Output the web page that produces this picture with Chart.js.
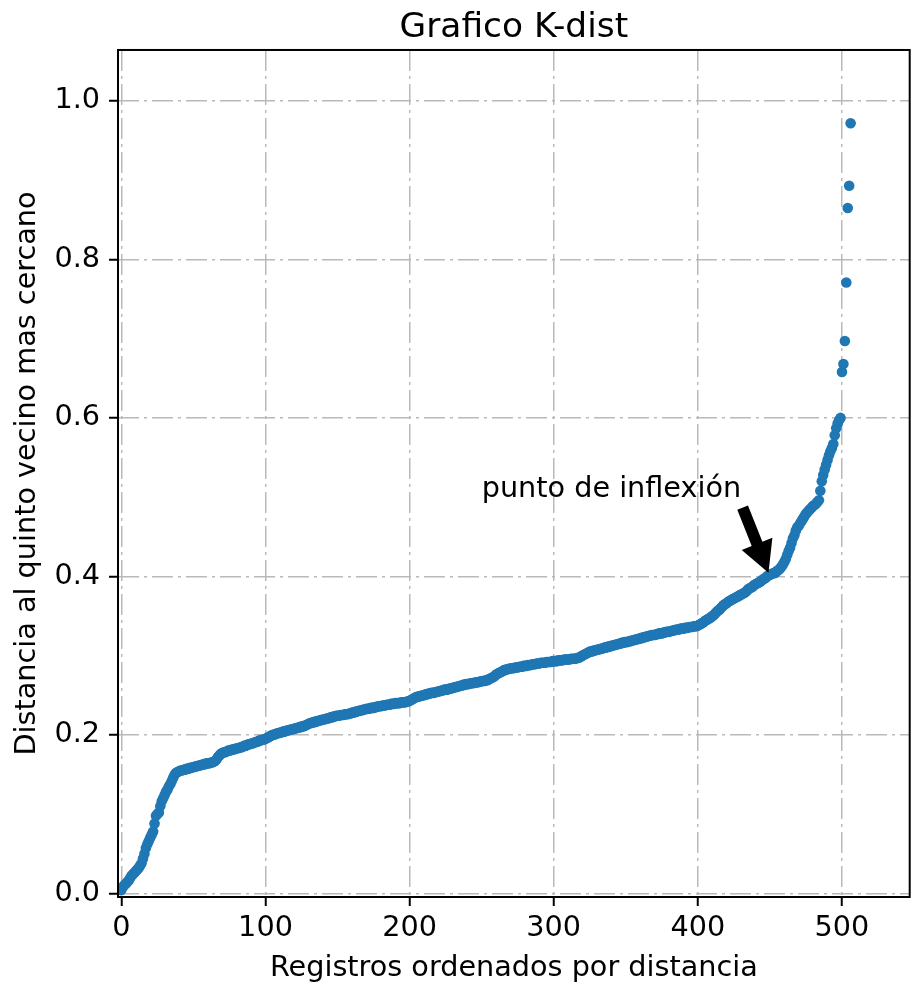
<!DOCTYPE html>
<html>
<head>
<meta charset="utf-8">
<script src="https://cdn.jsdelivr.net/npm/chart.js@4/dist/chart.umd.min.js"></script>
<style>
  html, body { margin: 0; padding: 0; background: #fff; }
  #wrap { width: 915px; height: 986px; }
</style>
</head>
<body>
<div id="wrap"><canvas id="canva"></canvas></div>
<script>
// distancia al 5o vecino, ya ordenada (registro i -> distancias[i])
const distancias = [
  0.004, 0.008, 0.010, 0.012, 0.014, 0.016, 0.019, 0.022, 0.024, 0.026,
  0.028, 0.030, 0.032, 0.035, 0.038, 0.044, 0.050, 0.057, 0.062, 0.066,
  0.070, 0.074, 0.078, 0.088, 0.098, 0.100, 0.102, 0.110, 0.116, 0.120,
  0.124, 0.128, 0.131, 0.135, 0.138, 0.142, 0.146, 0.150, 0.152, 0.153,
  0.154, 0.155, 0.155, 0.156, 0.156, 0.157, 0.157, 0.158, 0.158, 0.159,
  0.159, 0.160, 0.160, 0.161, 0.161, 0.162, 0.162, 0.163, 0.163, 0.164,
  0.164, 0.164, 0.165, 0.165, 0.166, 0.167, 0.169, 0.172, 0.174, 0.176,
  0.177, 0.178, 0.178, 0.179, 0.180, 0.180, 0.181, 0.181, 0.182, 0.182,
  0.183, 0.183, 0.184, 0.184, 0.185, 0.186, 0.186, 0.187, 0.188, 0.188,
  0.189, 0.189, 0.190, 0.191, 0.191, 0.192, 0.193, 0.193, 0.194, 0.194,
  0.195, 0.196, 0.197, 0.198, 0.199, 0.200, 0.200, 0.201, 0.202, 0.202,
  0.203, 0.203, 0.204, 0.204, 0.205, 0.205, 0.206, 0.206, 0.207, 0.207,
  0.208, 0.208, 0.209, 0.209, 0.210, 0.210, 0.211, 0.211, 0.212, 0.213,
  0.214, 0.215, 0.215, 0.216, 0.216, 0.217, 0.217, 0.218, 0.218, 0.219,
  0.219, 0.220, 0.220, 0.221, 0.221, 0.222, 0.222, 0.223, 0.223, 0.224,
  0.224, 0.224, 0.225, 0.225, 0.225, 0.226, 0.226, 0.226, 0.227, 0.227,
  0.228, 0.228, 0.229, 0.229, 0.230, 0.230, 0.231, 0.231, 0.232, 0.232,
  0.233, 0.233, 0.233, 0.234, 0.234, 0.234, 0.235, 0.235, 0.236, 0.236,
  0.236, 0.237, 0.237, 0.237, 0.238, 0.238, 0.238, 0.239, 0.239, 0.239,
  0.240, 0.240, 0.240, 0.240, 0.241, 0.241, 0.241, 0.241, 0.242, 0.242,
  0.243, 0.244, 0.245, 0.246, 0.247, 0.248, 0.248, 0.249, 0.249, 0.250,
  0.250, 0.251, 0.251, 0.252, 0.252, 0.253, 0.253, 0.253, 0.254, 0.254,
  0.255, 0.255, 0.256, 0.256, 0.257, 0.257, 0.257, 0.258, 0.258, 0.259,
  0.259, 0.260, 0.260, 0.261, 0.261, 0.262, 0.262, 0.263, 0.263, 0.264,
  0.264, 0.264, 0.265, 0.265, 0.265, 0.266, 0.266, 0.266, 0.267, 0.267,
  0.268, 0.268, 0.268, 0.269, 0.269, 0.270, 0.271, 0.272, 0.273, 0.274,
  0.276, 0.277, 0.278, 0.279, 0.280, 0.281, 0.282, 0.282, 0.283, 0.283,
  0.284, 0.284, 0.284, 0.285, 0.285, 0.285, 0.286, 0.286, 0.286, 0.287,
  0.287, 0.287, 0.288, 0.288, 0.288, 0.289, 0.289, 0.289, 0.290, 0.290,
  0.290, 0.291, 0.291, 0.291, 0.291, 0.292, 0.292, 0.292, 0.292, 0.293,
  0.293, 0.293, 0.293, 0.294, 0.294, 0.294, 0.294, 0.295, 0.295, 0.295,
  0.295, 0.295, 0.296, 0.296, 0.296, 0.296, 0.297, 0.297, 0.298, 0.299,
  0.300, 0.301, 0.302, 0.303, 0.304, 0.305, 0.305, 0.306, 0.306, 0.307,
  0.307, 0.308, 0.308, 0.309, 0.309, 0.310, 0.310, 0.311, 0.311, 0.312,
  0.312, 0.313, 0.313, 0.314, 0.314, 0.315, 0.315, 0.316, 0.316, 0.317,
  0.317, 0.317, 0.318, 0.318, 0.319, 0.319, 0.320, 0.320, 0.321, 0.321,
  0.322, 0.322, 0.323, 0.323, 0.324, 0.324, 0.325, 0.325, 0.326, 0.326,
  0.326, 0.327, 0.327, 0.328, 0.328, 0.328, 0.329, 0.329, 0.330, 0.330,
  0.330, 0.331, 0.331, 0.332, 0.332, 0.333, 0.333, 0.333, 0.334, 0.334,
  0.334, 0.335, 0.335, 0.335, 0.336, 0.336, 0.336, 0.337, 0.337, 0.337,
  0.338, 0.339, 0.340, 0.341, 0.342, 0.344, 0.345, 0.346, 0.347, 0.348,
  0.350, 0.351, 0.353, 0.355, 0.357, 0.358, 0.360, 0.362, 0.364, 0.365,
  0.366, 0.368, 0.369, 0.370, 0.371, 0.372, 0.373, 0.374, 0.375, 0.376,
  0.377, 0.378, 0.379, 0.380, 0.382, 0.384, 0.385, 0.386, 0.387, 0.389,
  0.390, 0.391, 0.392, 0.393, 0.394, 0.396, 0.397, 0.398, 0.400, 0.401,
  0.402, 0.403, 0.404, 0.404, 0.405, 0.407, 0.408, 0.410, 0.412, 0.415,
  0.418, 0.422, 0.427, 0.432, 0.436, 0.442, 0.448, 0.452, 0.458, 0.462,
  0.464, 0.467, 0.470, 0.473, 0.476, 0.479, 0.481, 0.483, 0.485, 0.487,
  0.489, 0.490, 0.492, 0.494, 0.496, 0.508, 0.520, 0.528, 0.535, 0.541,
  0.547, 0.553, 0.558, 0.562, 0.567, 0.578, 0.587, 0.593, 0.597, 0.600,
  0.658, 0.668, 0.697, 0.771, 0.865, 0.893, 0.972
];

const xTicks = [0, 100, 200, 300, 400, 500];
const yTicks = [0.0, 0.2, 0.4, 0.6, 0.8, 1.0];

// anotacion: texto en (250, 0.5), flecha hacia (450, 0.4)
const anotTexto = 'punto de inflexión';
const anotXYText = [250, 0.5];
const anotXY = [450, 0.4];

const FONT = '"DejaVu Sans", Arial, sans-serif';
const AZUL = '#1f77b4';
const GRID = '#b9b9b9';

const marcoYAnotacion = {
    id: 'marcoYAnotacion',
    afterDraw(chart) {
        const { ctx, chartArea, scales } = chart;
        const xs = scales.x;
        const ys = scales.y;

        // texto
        const fs = 28.7;
        ctx.save();
        ctx.font = fs + 'px ' + FONT;
        ctx.fillStyle = '#000';
        ctx.textAlign = 'left';
        ctx.textBaseline = 'alphabetic';
        const tx = xs.getPixelForValue(anotXYText[0]);
        const ty = ys.getPixelForValue(anotXYText[1]);
        ctx.fillText(anotTexto, tx, ty);
        const w = ctx.measureText(anotTexto).width;

        // flecha estilo matplotlib (shrink 0.05)
        const sx = tx + w;
        const sy = ty + fs * 0.236;
        const ex = xs.getPixelForValue(anotXY[0]);
        const ey = ys.getPixelForValue(anotXY[1]);
        const dx = ex - sx, dy = ey - sy;
        const r = Math.hypot(dx, dy);
        const ux = dx / r, uy = dy / r;
        const px = -uy, py = ux;
        const shrink = 0.05 * r;
        const ax = sx + ux * shrink, ay = sy + uy * shrink;
        const bx = ex - ux * shrink, by = ey - uy * shrink;
        const tailW = 11.5, headW = 33, headL = 31;
        const hx = bx - ux * headL, hy = by - uy * headL;
        ctx.beginPath();
        ctx.moveTo(ax + px * tailW / 2, ay + py * tailW / 2);
        ctx.lineTo(hx + px * tailW / 2, hy + py * tailW / 2);
        ctx.lineTo(hx + px * headW / 2, hy + py * headW / 2);
        ctx.lineTo(bx, by);
        ctx.lineTo(hx - px * headW / 2, hy - py * headW / 2);
        ctx.lineTo(hx - px * tailW / 2, hy - py * tailW / 2);
        ctx.lineTo(ax - px * tailW / 2, ay - py * tailW / 2);
        ctx.closePath();
        ctx.fillStyle = '#000';
        ctx.fill();

        // marco de los ejes
        ctx.strokeStyle = '#000';
        ctx.lineWidth = 2;
        ctx.strokeRect(chartArea.left, chartArea.top,
            chartArea.right - chartArea.left, chartArea.bottom - chartArea.top);
        ctx.restore();
    }
};

const canvas = document.querySelector('#canva').getContext('2d');
new Chart(canvas, {
    type: 'scatter',
    data: {
        datasets: [
            {
                label: 'k-dist',
                data: distancias.map((d, i) => ({ x: i, y: d })),
                backgroundColor: AZUL,
                borderWidth: 0,
                pointRadius: 5.3,
                pointHoverRadius: 5.3,
            },
        ],
    },
    options: {
        responsive: true,
        maintainAspectRatio: false,
        animation: false,
        devicePixelRatio: 1,
        events: [],
        layout: { padding: { top: 0, right: 3, bottom: 0, left: 0 } },
        scales: {
            x: {
                type: 'linear',
                min: -2.35,
                max: 547,
                z: 1,
                afterBuildTicks: (scale) => {
                    scale.ticks = xTicks.map((v) => ({ value: v }));
                },
                afterFit: (scale) => {
                    scale.height = 89;
                },
                ticks: {
                    color: '#000',
                    font: { family: FONT, size: 28.7 },
                    padding: 5,
                    maxRotation: 0,
                    autoSkip: false,
                },
                grid: {
                    color: GRID,
                    lineWidth: 1.5,
                    tickLength: 9,
                    tickColor: '#000',
                    tickWidth: 2,
                    tickBorderDash: [],
                },
                border: { display: false, dash: [21, 5, 3, 5] },
                title: {
                    display: true,
                    text: 'Registros ordenados por distancia',
                    color: '#000',
                    font: { family: FONT, size: 28.7 },
                    padding: { top: 0, bottom: 0 },
                },
            },
            y: {
                type: 'linear',
                min: -0.0047,
                max: 1.0644,
                z: 1,
                afterBuildTicks: (scale) => {
                    scale.ticks = yTicks.map((v) => ({ value: v }));
                },
                afterFit: (scale) => {
                    scale.width = 118;
                },
                ticks: {
                    color: '#000',
                    font: { family: FONT, size: 28.7 },
                    padding: 9,
                    autoSkip: false,
                    callback: (v) => Number(v).toFixed(1),
                },
                grid: {
                    color: GRID,
                    lineWidth: 1.5,
                    tickLength: 9,
                    tickColor: '#000',
                    tickWidth: 2,
                    tickBorderDash: [],
                },
                border: { display: false, dash: [21, 5, 3, 5] },
                title: {
                    display: true,
                    text: 'Distancia al quinto vecino mas cercano',
                    color: '#000',
                    font: { family: FONT, size: 28.7 },
                    padding: { top: 10, bottom: 0 },
                },
            },
        },
        plugins: {
            legend: { display: false },
            tooltip: { enabled: false },
            title: {
                display: true,
                fullSize: false,
                text: 'Grafico K-dist',
                color: '#000',
                font: { family: FONT, size: 34.4, weight: 'normal' },
                padding: { top: 7, bottom: 1.7 },
            },
        },
    },
    plugins: [marcoYAnotacion],
});
</script>
</body>
</html>
